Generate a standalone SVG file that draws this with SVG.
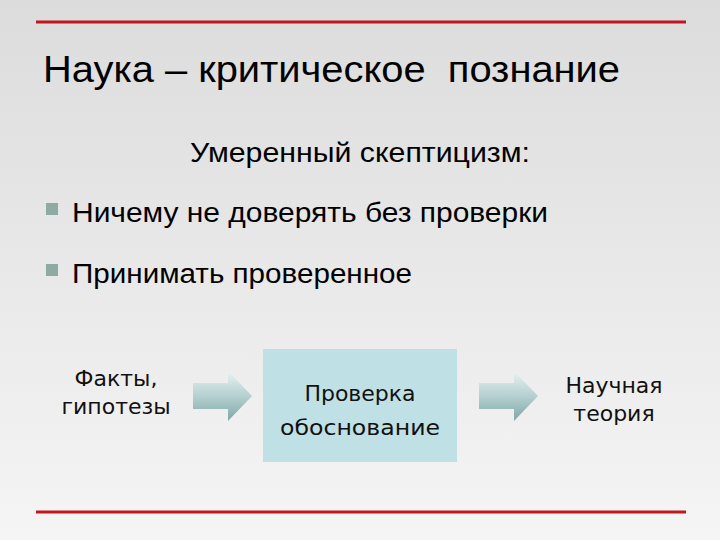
<svg xmlns="http://www.w3.org/2000/svg" width="720" height="540" viewBox="0 0 720 540">
<defs>
<linearGradient id="bg" x1="0" y1="0" x2="0" y2="1"><stop offset="0" stop-color="#dcdcdc"/><stop offset="1" stop-color="#f5f5f5"/></linearGradient>
<linearGradient id="ar" x1="0" y1="0" x2="0" y2="1"><stop offset="0" stop-color="#e9f2f2"/><stop offset="0.5" stop-color="#b5d0d0"/><stop offset="1" stop-color="#7fa7a8"/></linearGradient>
<style>
.t{font-family:"Liberation Sans",Arial,sans-serif;fill:#000}
.d{font-family:"DejaVu Sans",Verdana,sans-serif;fill:#111;font-size:22px;text-anchor:middle}
</style>
</defs>
<rect width="720" height="540" fill="url(#bg)"/>
<line x1="36" y1="22" x2="686" y2="22" stroke="#c0161e" stroke-width="3"/>
<line x1="36" y1="512" x2="686" y2="512" stroke="#c0161e" stroke-width="3"/>
<text class="t" x="43" y="82" font-size="36" textLength="577" lengthAdjust="spacingAndGlyphs" xml:space="preserve">Наука – критическое  познание</text>
<text class="t" x="190" y="162" font-size="27" textLength="340" lengthAdjust="spacingAndGlyphs">Умеренный скептицизм:</text>
<rect x="46" y="203" width="12" height="12" fill="#8fa9a3"/>
<text class="t" x="72" y="222" font-size="27" textLength="476" lengthAdjust="spacingAndGlyphs">Ничему не доверять без проверки</text>
<rect x="46" y="264" width="12" height="12" fill="#8fa9a3"/>
<text class="t" x="72" y="283" font-size="27" textLength="340" lengthAdjust="spacingAndGlyphs">Принимать проверенное</text>
<g id="facts"><text class="d" x="116" y="386">Факты,</text><text class="d" x="116" y="414">гипотезы</text></g>
<g id="check"><rect x="263" y="349" width="194" height="113" fill="#bfe0e4"/><text class="d" x="360" y="401">Проверка</text><text class="d" x="360" y="435" textLength="160" lengthAdjust="spacingAndGlyphs">обоснование</text></g>
<g id="theory"><text class="d" x="614" y="393">Научная</text><text class="d" x="614" y="421">теория</text></g>
<g id="connectors">
<path d="M193,383 H228 V371 L252,396 L228,421 V409 H193 Z" fill="url(#ar)"/>
<path d="M479,383 H514 V371 L538,396 L514,421 V409 H479 Z" fill="url(#ar)"/>
</g>
</svg>
